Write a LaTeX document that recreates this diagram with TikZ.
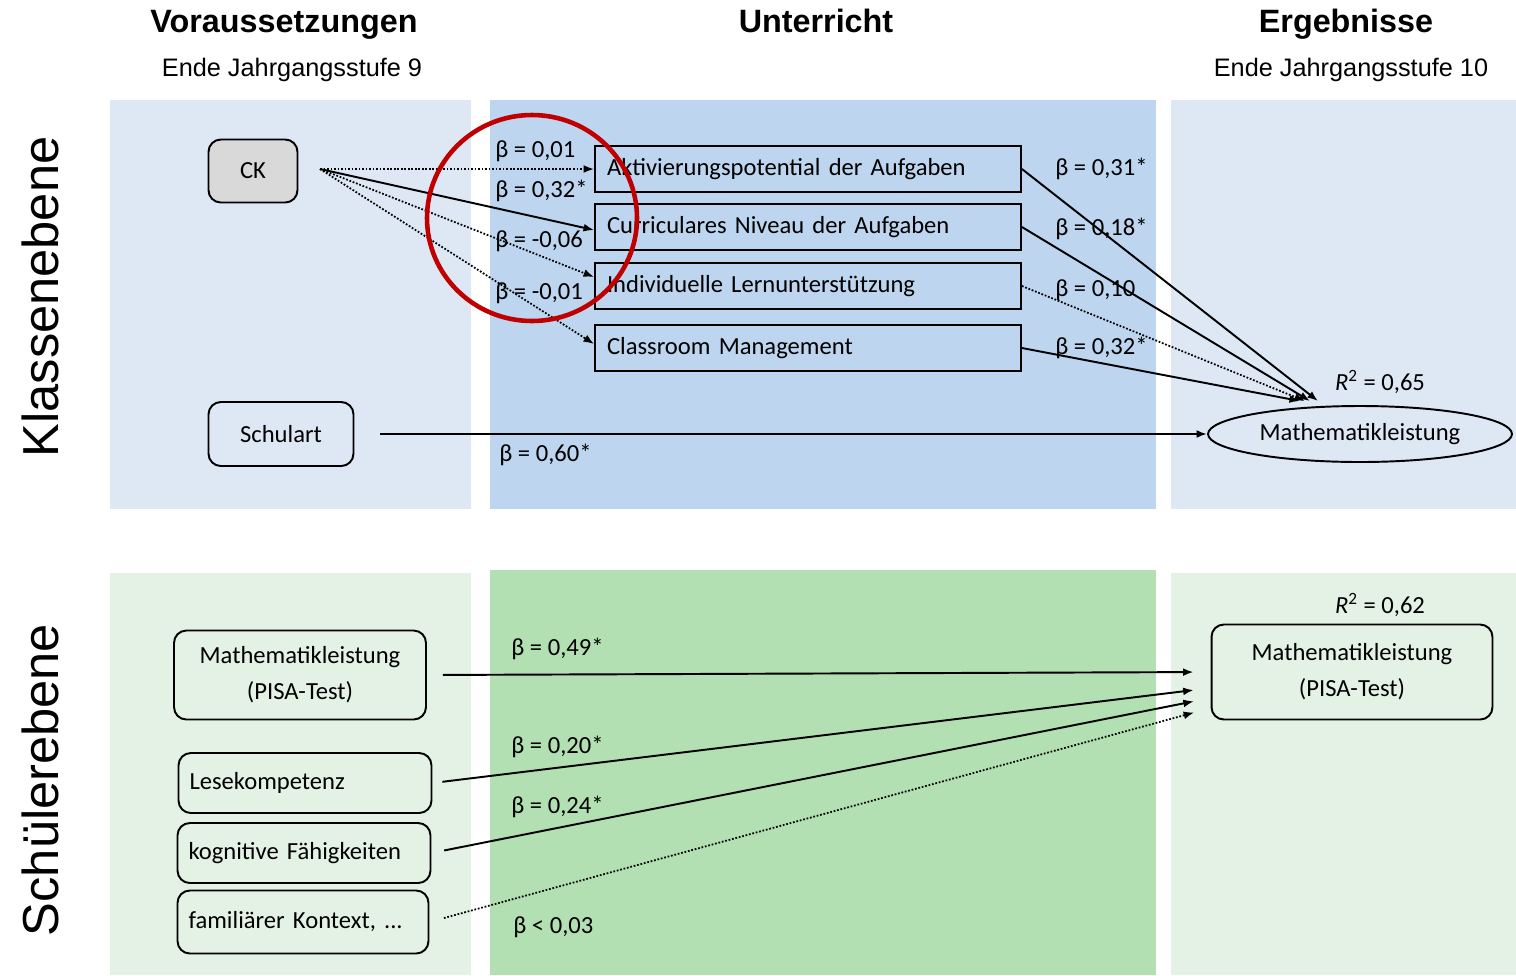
\documentclass[tikz,border=0pt]{standalone}
\usepackage{fontspec}
\setmainfont{Carlito}
\newfontfamily\headfont{Liberation Sans}
\usetikzlibrary{arrows.meta, shapes.geometric}
\definecolor{klasseHell}{HTML}{DEE8F4}
\definecolor{klasseMitte}{HTML}{BDD5EE}
\definecolor{schuelerHell}{HTML}{E3F2E4}
\definecolor{schuelerMitte}{HTML}{B2E0B2}
\definecolor{ckGrau}{HTML}{D9D9D9}
\definecolor{kreisRot}{HTML}{C00000}
\newcommand{\boxfont}{\fontsize{14}{20.5}\selectfont}
\tikzset{
  box/.style={draw, line width=1.1pt, font=\boxfont, align=center, inner sep=0pt},
  rbox/.style={box, rounded corners=7pt},
  merkmal/.style={box, minimum width=8.52cm, minimum height=0.93cm,
    text width=8.04cm, align=left},
  pfeil/.style={draw, line width=1.1pt, -{Latex[length=6pt, width=4.5pt]}},
  punkte/.style={pfeil, line width=1pt, densely dotted},
  beta/.style={anchor=west, font=\boxfont, inner sep=0pt},
  kopf/.style={anchor=base, font=\headfont\bfseries\fontsize{18.4}{22}\selectfont},
  unterkopf/.style={anchor=base, font=\headfont\fontsize{14.4}{17}\selectfont},
  ebene/.style={font=\headfont\fontsize{28.8}{32}\selectfont, rotate=90},
}

\begin{document}
\begin{tikzpicture}[x=0.02cm, y=-0.02cm]
  \useasboundingbox (0,0) rectangle (1516,975);

  % hintergrund
  \fill[klasseHell]    (110,100) rectangle (471,509);
  \fill[klasseMitte]   (490,100) rectangle (1156,509);
  \fill[klasseHell]    (1171,100) rectangle (1516,509);
  \fill[schuelerHell]  (110,573) rectangle (471,975);
  \fill[schuelerMitte] (490,570) rectangle (1156,975);
  \fill[schuelerHell]  (1171,573) rectangle (1516,975);

  % ueberschriften
  \node[kopf]      (voraus) at (284,32)  {Voraussetzungen};
  \node[kopf]      (unterr) at (816,32)  {Unterricht};
  \node[kopf]      (ergebn) at (1346,32) {Ergebnisse};
  \node[unterkopf] (ende9)  at (292,76)  {Ende Jahrgangsstufe 9};
  \node[unterkopf] (ende10) at (1351,76) {Ende Jahrgangsstufe 10};
  \node[ebene]     (klasse) at (40,297)  {Klassenebene};
  \node[ebene]     (schuel) at (40,780)  {Schülerebene};

  % klassenebene
  \node[rbox, fill=ckGrau, minimum width=1.78cm, minimum height=1.26cm]
        (ck) at (253,171) {CK};
  \node[rbox, minimum width=2.9cm, minimum height=1.28cm]
        (schulart) at (281,434) {Schulart};
  \node[merkmal] (akt) at (808,169) {Aktivierungspotential der Aufgaben};
  \node[merkmal] (cur) at (808,227) {Curriculares Niveau der Aufgaben};
  \node[merkmal] (ind) at (808,286) {Individuelle Lernunterstützung};
  \node[merkmal] (cla) at (808,348) {Classroom Management};
  \node[draw, ellipse, line width=1.1pt, font=\boxfont, inner sep=0pt,
        minimum width=6.08cm, minimum height=1.12cm]
        (mathK) at (1360,434) {Mathematikleistung};
  \node[font=\boxfont] (r2k) at (1380,382) {\textit{R}\textsuperscript{2} = 0,65};
  \coordinate (ckout) at (320,169);

  \path (ckout) edge[punkte] (akt.west)
        (ckout) edge[pfeil]  ([yshift=-0.06cm]cur.west)
        (ckout) edge[punkte] ([yshift=0.18cm]ind.west)
        (ckout) edge[punkte] ([yshift=0.08cm]cla.west);
  \node[beta] (b1) at (495,151) {β = 0,01};
  \node[beta] (b2) at (495,191) {β = 0,32*};
  \node[beta] (b3) at (495,241) {β = -0,06};
  \node[beta] (b4) at (495,293) {β = -0,01};

  \path (akt.east) edge[pfeil]  ([xshift=-0.84cm, yshift=0.08cm]mathK.north)
        (cur.east) edge[pfeil]  ([xshift=-1cm, yshift=0.08cm]mathK.north)
        (ind.east) edge[punkte] ([xshift=-1.1cm, yshift=0.08cm]mathK.north)
        (cla.east) edge[pfeil]  ([xshift=-1.2cm, yshift=0.08cm]mathK.north);
  \node[beta] (b5) at (1055,169) {β = 0,31*};
  \node[beta] (b6) at (1055,229) {β = 0,18*};
  \node[beta] (b7) at (1055,290) {β = 0,10};
  \node[beta] (b8) at (1055,348) {β = 0,32*};

  \path (schulart.east) edge[pfeil, shorten <=0.52cm] (mathK.west);
  \node[beta] (b9) at (499,455) {β = 0,60*};

  % markierung
  \draw[kreisRot, line width=2.6pt] (532,218) ellipse [x radius=105, y radius=103];

  % schuelerebene
  \node[rbox, minimum width=5.04cm, minimum height=1.78cm]
        (pisaL) at (300,675) {Mathematikleistung\\(PISA-Test)};
  \node[rbox, minimum width=5.06cm, minimum height=1.2cm, text width=4.62cm, align=left]
        (lese) at (305,783) {Lesekompetenz};
  \node[rbox, minimum width=5.06cm, minimum height=1.2cm, text width=4.62cm, align=left]
        (kogn) at (304,853) {kognitive Fähigkeiten};
  \node[rbox, minimum width=5.02cm, minimum height=1.26cm, text width=4.58cm, align=left]
        (fami) at (303,922) {familiärer Kontext, ...};
  \node[rbox, minimum width=5.62cm, minimum height=1.9cm]
        (pisaR) at (1352,672) {Mathematikleistung\\(PISA-Test)};
  \node[font=\boxfont] (r2s) at (1380,605) {\textit{R}\textsuperscript{2} = 0,62};

  \path (pisaL.east) edge[pfeil, shorten <=0.32cm, shorten >=0.34cm] (pisaR.west)
        (lese.east)  edge[pfeil, shorten <=0.2cm, shorten >=0.34cm] ([yshift=-0.32cm]pisaR.west)
        (kogn.east)  edge[pfeil, shorten <=0.26cm, shorten >=0.34cm] ([yshift=-0.52cm]pisaR.west)
        (fami.east)  edge[punkte, shorten <=0.3cm, shorten >=0.34cm] ([yshift=-0.72cm]pisaR.west);
  \node[beta] (b10) at (511,649) {β = 0,49*};
  \node[beta] (b11) at (511,747) {β = 0,20*};
  \node[beta] (b12) at (511,807) {β = 0,24*};
  \node[beta] (b13) at (513,927) {β < 0,03};
\end{tikzpicture}
\end{document}
